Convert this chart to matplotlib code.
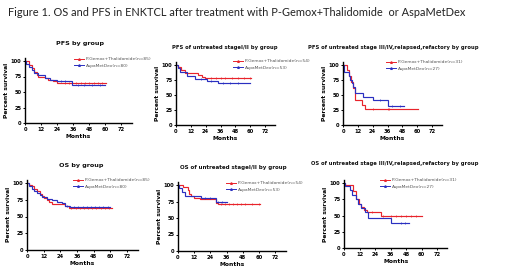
import numpy as np
import matplotlib
matplotlib.use("Agg")
import matplotlib.pyplot as plt
from matplotlib.lines import Line2D

W, H = 520, 275
RED = "#e8232b"
BLUE = "#2a2fc0"

# --- data: (time of drop in months, survival % after drop), end of follow-up, censor times ---
pfs_all_red_t = [0, 3, 5, 7, 9, 10, 15, 17.5, 21, 24]
pfs_all_red_s = [100, 94, 88, 83, 78, 75, 73, 70, 68, 64]
pfs_all_red_end = 61
pfs_all_red_cens = [30, 33, 38, 42, 45, 48, 52, 55, 58]
pfs_all_blue_t = [0, 1, 3, 5, 7, 10, 15, 19, 24, 35]
pfs_all_blue_s = [100, 95, 90, 85, 81, 77, 73, 70, 67, 61]
pfs_all_blue_end = 60
pfs_all_blue_cens = [27, 30, 40, 44, 50, 56]

pfs_12_red_t = [0, 2, 4, 7, 18, 21, 23.5]
pfs_12_red_s = [100, 96, 91, 86, 83, 80, 78]
pfs_12_red_end = 61
pfs_12_red_cens = [28, 32, 36, 40, 45, 50, 55, 60]
pfs_12_blue_t = [0, 1.5, 3, 8.6, 15, 25, 34]
pfs_12_blue_s = [100, 95, 89, 82, 76, 73, 70]
pfs_12_blue_end = 60
pfs_12_blue_cens = [20, 28, 38, 44, 50]

pfs_34_red_t = [0, 3.5, 5, 6.5, 8, 9.5, 15, 17.5]
pfs_34_red_s = [100, 92, 82, 72, 61, 42, 34, 26]
pfs_34_red_end = 61
pfs_34_red_cens = [24, 36, 37]
pfs_34_blue_t = [0, 1, 4.5, 6, 7, 8, 9.5, 16, 24, 36]
pfs_34_blue_s = [100, 88, 82, 75, 70, 63, 54, 47, 42, 31]
pfs_34_blue_end = 49
pfs_34_blue_cens = [30, 40, 46]

os_all_red_t = [0, 1.5, 3.6, 5, 7, 9, 11, 12.5, 14.4, 16, 18, 25, 27.5, 30]
os_all_red_s = [100, 97, 95, 91, 88, 84, 80, 77, 75, 72, 69, 68, 66, 62]
os_all_red_end = 61
os_all_red_cens = [32, 35, 38, 41, 44, 47, 50, 53, 56, 59]
os_all_blue_t = [0, 1.2, 3.6, 5, 7, 9, 11, 14.4, 18, 21.6, 25, 27.5, 31]
os_all_blue_s = [100, 96, 91, 88, 85, 82, 79, 76, 74, 72, 70, 66, 64]
os_all_blue_end = 60
os_all_blue_cens = [29, 34, 37, 40, 43, 46, 49, 52, 55, 58]

os_12_red_t = [0, 3.7, 7.4, 8.5, 10, 12, 16, 28.5, 30]
os_12_red_s = [100, 97, 92, 86, 83, 81, 79, 73, 71]
os_12_red_end = 61
os_12_red_cens = [32, 35, 38, 41, 44, 47, 50, 55, 60]
os_12_blue_t = [0, 1, 3, 5, 17, 28.5]
os_12_blue_s = [100, 96, 90, 84, 80, 75]
os_12_blue_end = 36
os_12_blue_cens = [20, 24, 30, 33]

os_34_red_t = [0, 1, 7, 9, 11.5, 13, 15.5, 18, 28.5]
os_34_red_s = [100, 97, 88, 75, 68, 63, 58, 55, 49]
os_34_red_end = 60
os_34_red_cens = [22, 30, 36, 40, 44, 48, 52, 56]
os_34_blue_t = [0, 1, 4.3, 6, 9, 10.5, 13, 16, 18.5, 36]
os_34_blue_s = [100, 96, 89, 81, 75, 68, 61, 55, 46, 39]
os_34_blue_end = 50
os_34_blue_cens = [44, 47]

panels = [
    # title, title xy (px), axis px (x0, x72, y0, y100), legend xy, n labels, data, title size
    ("PFS by group", (80, 43), (25, 121, 123, 61), (74, 57), ("85", "80"),
     (pfs_all_red_t, pfs_all_red_s, pfs_all_red_end, pfs_all_red_cens,
      pfs_all_blue_t, pfs_all_blue_s, pfs_all_blue_end, pfs_all_blue_cens), 4.6),
    ("PFS of untreated stageI/II by group", (225, 48), (176, 265, 125, 65), (233, 59), ("54", "53"),
     (pfs_12_red_t, pfs_12_red_s, pfs_12_red_end, pfs_12_red_cens,
      pfs_12_blue_t, pfs_12_blue_s, pfs_12_blue_end, pfs_12_blue_cens), 3.8),
    ("PFS of untreated stage III/IV,relapsed,refactory by group", (393, 48), (343, 432, 125, 65), (386, 60), ("31", "27"),
     (pfs_34_red_t, pfs_34_red_s, pfs_34_red_end, pfs_34_red_cens,
      pfs_34_blue_t, pfs_34_blue_s, pfs_34_blue_end, pfs_34_blue_cens), 3.8),
    ("OS by group", (81, 165), (27, 127, 250, 183), (73, 178), ("85", "80"),
     (os_all_red_t, os_all_red_s, os_all_red_end, os_all_red_cens,
      os_all_blue_t, os_all_blue_s, os_all_blue_end, os_all_blue_cens), 4.6),
    ("OS of untreated stageI/II by group", (233, 168), (178, 275, 251, 185), (226, 181), ("54", "53"),
     (os_12_red_t, os_12_red_s, os_12_red_end, os_12_red_cens,
      os_12_blue_t, os_12_blue_s, os_12_blue_end, os_12_blue_cens), 4.0),
    ("OS of untreated stage III/IV,relapsed,refactory by group", (395, 163), (344, 437, 248, 183), (380, 178), ("31", "27"),
     (os_34_red_t, os_34_red_s, os_34_red_end, os_34_red_cens,
      os_34_blue_t, os_34_blue_s, os_34_blue_end, os_34_blue_cens), 3.75),
]

fig = plt.figure(figsize=(W / 100, H / 100), dpi=100)
fig.text(8 / W, 1 - 12 / H,
         "Figure 1. OS and PFS in ENKTCL after treatment with P-Gemox+Thalidomide  or AspaMetDex",
         fontsize=7.9, family="Lato", color="#222222", va="center", ha="left")


def draw_km(ax, t, s, end, cens, color):
    tt = list(t) + [end]
    ss = list(s) + [s[-1]]
    ax.step(tt, ss, where="post", color=color, lw=0.85, solid_joinstyle="miter")
    idx = np.searchsorted(t, cens, side="right") - 1
    ax.plot(cens, np.array(s)[idx], ls="none", marker="|", ms=1.8, mew=0.5, color=color)


for title, (tx, ty), (x0, x72, y0, y100), (lx, ly), (nr, nb), d, tsize in panels:
    ppm = (x72 - x0) / 72
    ppp = (y0 - y100) / 100
    right = x0 + 80 * ppm
    top = y100 - 5 * ppp
    ax = fig.add_axes([x0 / W, 1 - y0 / H, (right - x0) / W, (y0 - top) / H])
    ax.set_xlim(0, 80)
    ax.set_ylim(0, 105)
    for sp in ("top", "right"):
        ax.spines[sp].set_visible(False)
    for sp in ("left", "bottom"):
        ax.spines[sp].set_linewidth(1.0)
    ax.set_xticks(range(0, 73, 12))
    ax.set_yticks([0, 25, 50, 75, 100])
    ax.tick_params(length=1.6, width=0.7, pad=1, labelsize=3.7)
    for lab in ax.get_xticklabels() + ax.get_yticklabels():
        lab.set_fontweight("bold")
    ax.set_xlabel("Months", fontsize=4.3, fontweight="bold", labelpad=1.5)
    ax.set_ylabel("Percent survival", fontsize=4.3, fontweight="bold", labelpad=1.5)
    draw_km(ax, d[0], d[1], d[2], d[3], RED)
    draw_km(ax, d[4], d[5], d[6], d[7], BLUE)
    fig.text(tx / W, 1 - ty / H, title, fontsize=tsize, fontweight="bold",
             ha="center", va="center", color="#111111")
    handles = [Line2D([], [], color=RED, lw=0.7, marker="^", ms=1.2),
               Line2D([], [], color=BLUE, lw=0.7, marker="^", ms=1.2)]
    ax.legend(handles, ["P-Gemox+Thalidomide(n=%s)" % nr, "AspaMetDex(n=%s)" % nb],
              loc="upper left", bbox_to_anchor=(lx / W, 1 - ly / H),
              bbox_transform=fig.transFigure, frameon=False, fontsize=3.2,
              handlelength=2.2, handletextpad=0.5, labelspacing=0.6,
              borderpad=0, borderaxespad=0, labelcolor="#555555")

fig.savefig("out.png", dpi=100)
